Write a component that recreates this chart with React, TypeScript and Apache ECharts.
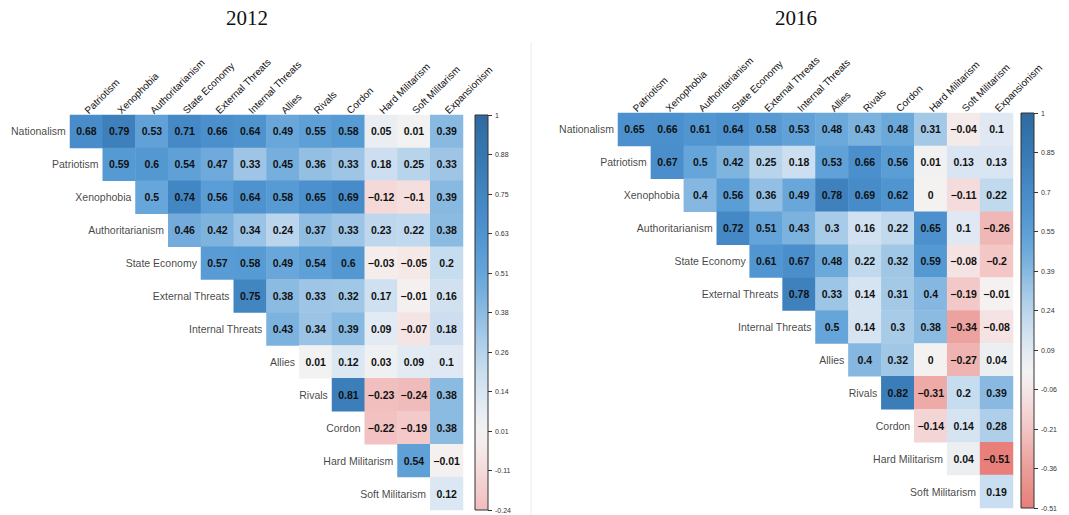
import React, { useEffect, useRef } from 'react';
import * as echarts from 'echarts';

const rowNames = ['Nationalism', 'Patriotism', 'Xenophobia', 'Authoritarianism', 'State Economy', 'External Threats', 'Internal Threats', 'Allies', 'Rivals', 'Cordon', 'Hard Militarism', 'Soft Militarism'];
const colNames = ['Patriotism', 'Xenophobia', 'Authoritarianism', 'State Economy', 'External Threats', 'Internal Threats', 'Allies', 'Rivals', 'Cordon', 'Hard Militarism', 'Soft Militarism', 'Expansionism'];

const corr2012 = [
  [0.68, 0.79, 0.53, 0.71, 0.66, 0.64, 0.49, 0.55, 0.58, 0.05, 0.01, 0.39],
  [0.59, 0.6, 0.54, 0.47, 0.33, 0.45, 0.36, 0.33, 0.18, 0.25, 0.33],
  [0.5, 0.74, 0.56, 0.64, 0.58, 0.65, 0.69, -0.12, -0.1, 0.39],
  [0.46, 0.42, 0.34, 0.24, 0.37, 0.33, 0.23, 0.22, 0.38],
  [0.57, 0.58, 0.49, 0.54, 0.6, -0.03, -0.05, 0.2],
  [0.75, 0.38, 0.33, 0.32, 0.17, -0.01, 0.16],
  [0.43, 0.34, 0.39, 0.09, -0.07, 0.18],
  [0.01, 0.12, 0.03, 0.09, 0.1],
  [0.81, -0.23, -0.24, 0.38],
  [-0.22, -0.19, 0.38],
  [0.54, -0.01],
  [0.12],
];

const corr2016 = [
  [0.65, 0.66, 0.61, 0.64, 0.58, 0.53, 0.48, 0.43, 0.48, 0.31, -0.04, 0.1],
  [0.67, 0.5, 0.42, 0.25, 0.18, 0.53, 0.66, 0.56, 0.01, 0.13, 0.13],
  [0.4, 0.56, 0.36, 0.49, 0.78, 0.69, 0.62, 0, -0.11, 0.22],
  [0.72, 0.51, 0.43, 0.3, 0.16, 0.22, 0.65, 0.1, -0.26],
  [0.61, 0.67, 0.48, 0.22, 0.32, 0.59, -0.08, -0.2],
  [0.78, 0.33, 0.14, 0.31, 0.4, -0.19, -0.01],
  [0.5, 0.14, 0.3, 0.38, -0.34, -0.08],
  [0.4, 0.32, 0, -0.27, 0.04],
  [0.82, -0.31, 0.2, 0.39],
  [-0.14, 0.14, 0.28],
  [0.04, -0.51],
  [0.19],
];

const ticks2012 = ['-0.24', '-0.11', '0.01', '0.14', '0.26', '0.38', '0.51', '0.63', '0.75', '0.88', '1'];
const ticks2016 = ['-0.51', '-0.36', '-0.21', '-0.06', '0.09', '0.24', '0.39', '0.55', '0.7', '0.85', '1'];

const colorStops: [number, string][] = [
  [-1, '#d84a44'],
  [-0.51, '#e87f7a'],
  [-0.35, '#ec9f9b'],
  [-0.2, '#f2c7c6'],
  [-0.1, '#f5dede'],
  [0, '#f5f3f2'],
  [0.1, '#e0e9f3'],
  [0.2, '#c7dcef'],
  [0.3, '#a8cbe8'],
  [0.4, '#85b7e0'],
  [0.5, '#66a5da'],
  [0.6, '#5398d2'],
  [0.7, '#468bc8'],
  [0.8, '#3c7fbb'],
  [1, '#2e6aa0'],
];

function hexToRgb(h: string) {
  return [parseInt(h.slice(1, 3), 16), parseInt(h.slice(3, 5), 16), parseInt(h.slice(5, 7), 16)];
}
function colorAt(v: number) {
  for (let i = 0; i < colorStops.length - 1; i++) {
    const [a, ca] = colorStops[i];
    const [b, cb] = colorStops[i + 1];
    if (v <= b || i === colorStops.length - 2) {
      const t = Math.max(0, Math.min(1, (v - a) / (b - a)));
      const A = hexToRgb(ca);
      const B = hexToRgb(cb);
      const c = A.map((x, k) => Math.round(x + (B[k] - x) * t));
      return `rgb(${c[0]},${c[1]},${c[2]})`;
    }
  }
  return colorStops[colorStops.length - 1][1];
}
function sampleColors(min: number, max: number, n: number) {
  const out: string[] = [];
  for (let i = 0; i < n; i++) out.push(colorAt(min + ((max - min) * i) / (n - 1)));
  return out;
}
function gradient(min: number, max: number) {
  const stops = [];
  const n = 30;
  for (let i = 0; i < n; i++) {
    const off = i / (n - 1);
    stops.push({ offset: off, color: colorAt(max - (max - min) * off) });
  }
  return new echarts.graphic.LinearGradient(0, 0, 0, 1, stops);
}

function cells(m: number[][]) {
  const d: number[][] = [];
  m.forEach((row, i) => row.forEach((v, k) => d.push([i + k, i, v])));
  return d;
}
const fmt = (v: number) => String(v).replace('-', '\u2212');

const FONT = 'Liberation Sans, Arial, sans-serif';

export default function App() {
  const ref = useRef<HTMLDivElement>(null);
  useEffect(() => {
    if (!ref.current) return;
    const chart = echarts.init(ref.current, undefined, { renderer: 'svg' });
    const panels = [
      { m: corr2012, ticks: ticks2012, min: -0.24, max: 1, grid: { left: 70, top: 115, width: 393, height: 395 }, bar: { left: 475, top: 115, width: 13, height: 395 } },
      { m: corr2016, ticks: ticks2016, min: -0.51, max: 1, grid: { left: 618, top: 113, width: 395, height: 395 }, bar: { left: 1021, top: 113, width: 13, height: 395 } },
    ];
    const grids: any[] = [];
    const xAxes: any[] = [];
    const yAxes: any[] = [];
    const series: any[] = [];
    const visualMaps: any[] = [];
    panels.forEach((p) => {
      const gi = grids.length;
      grids.push({ ...p.grid, containLabel: false });
      grids.push({ ...p.bar, show: true, backgroundColor: gradient(p.min, p.max), borderColor: '#333', borderWidth: 1 });
      xAxes.push({
        type: 'category', gridIndex: gi, data: colNames, position: 'top',
        axisLine: { show: false }, axisTick: { show: false }, splitLine: { show: false },
        axisLabel: { rotate: -45, interval: 0, fontSize: 10, color: '#111', margin: 3, fontFamily: FONT },
      });
      yAxes.push({ type: 'category', gridIndex: gi, data: rowNames, inverse: true, show: false });
      xAxes.push({ type: 'category', gridIndex: gi + 1, data: [''], show: false });
      yAxes.push({
        type: 'category', gridIndex: gi + 1, data: p.ticks, boundaryGap: false, position: 'right',
        axisLine: { show: false }, axisTick: { show: true, length: 4, lineStyle: { color: '#333' } },
        splitLine: { show: false },
        axisLabel: { fontSize: 7, color: '#333', margin: 7, fontFamily: FONT, interval: 0 },
      });
      const si = series.length;
      series.push({
        type: 'heatmap', xAxisIndex: gi, yAxisIndex: gi, data: cells(p.m),
        label: { show: true, formatter: (q: any) => fmt(q.value[2]), fontSize: 10.5, fontWeight: 'bold', color: '#111', fontFamily: FONT },
        itemStyle: { borderWidth: 0 },
        emphasis: { disabled: true },
      });
      series.push({
        type: 'scatter', xAxisIndex: gi, yAxisIndex: gi, symbolSize: 1,
        itemStyle: { color: 'rgba(0,0,0,0)' },
        data: rowNames.map((n, i) => ({ value: [i, i], name: n })),
        label: { show: true, position: 'left', distance: 20, formatter: (q: any) => q.name, fontSize: 10.5, color: '#111', fontFamily: FONT },
        emphasis: { disabled: true },
        silent: true,
      });
      visualMaps.push({ show: false, seriesIndex: si, dimension: 2, min: p.min, max: p.max, inRange: { color: sampleColors(p.min, p.max, 40) } });
    });
    chart.setOption({
      animation: false,
      backgroundColor: '#fff',
      grid: grids,
      xAxis: xAxes,
      yAxis: yAxes,
      visualMap: visualMaps,
      series,
      graphic: [
        { type: 'text', x: 247, y: 18, style: { text: '2012', fontSize: 21, fontFamily: 'Liberation Serif, Times New Roman, serif', fill: '#111', align: 'center', verticalAlign: 'middle' } },
        { type: 'text', x: 796, y: 18, style: { text: '2016', fontSize: 21, fontFamily: 'Liberation Serif, Times New Roman, serif', fill: '#111', align: 'center', verticalAlign: 'middle' } },
        { type: 'line', shape: { x1: 531, y1: 42, x2: 531, y2: 515 }, style: { stroke: '#f1ebe4', lineWidth: 1 } },
      ],
    });
    return () => chart.dispose();
  }, []);
  return <div ref={ref} style={{ position: 'fixed', left: 0, top: 0, width: 1069, height: 515 }} />;
}
